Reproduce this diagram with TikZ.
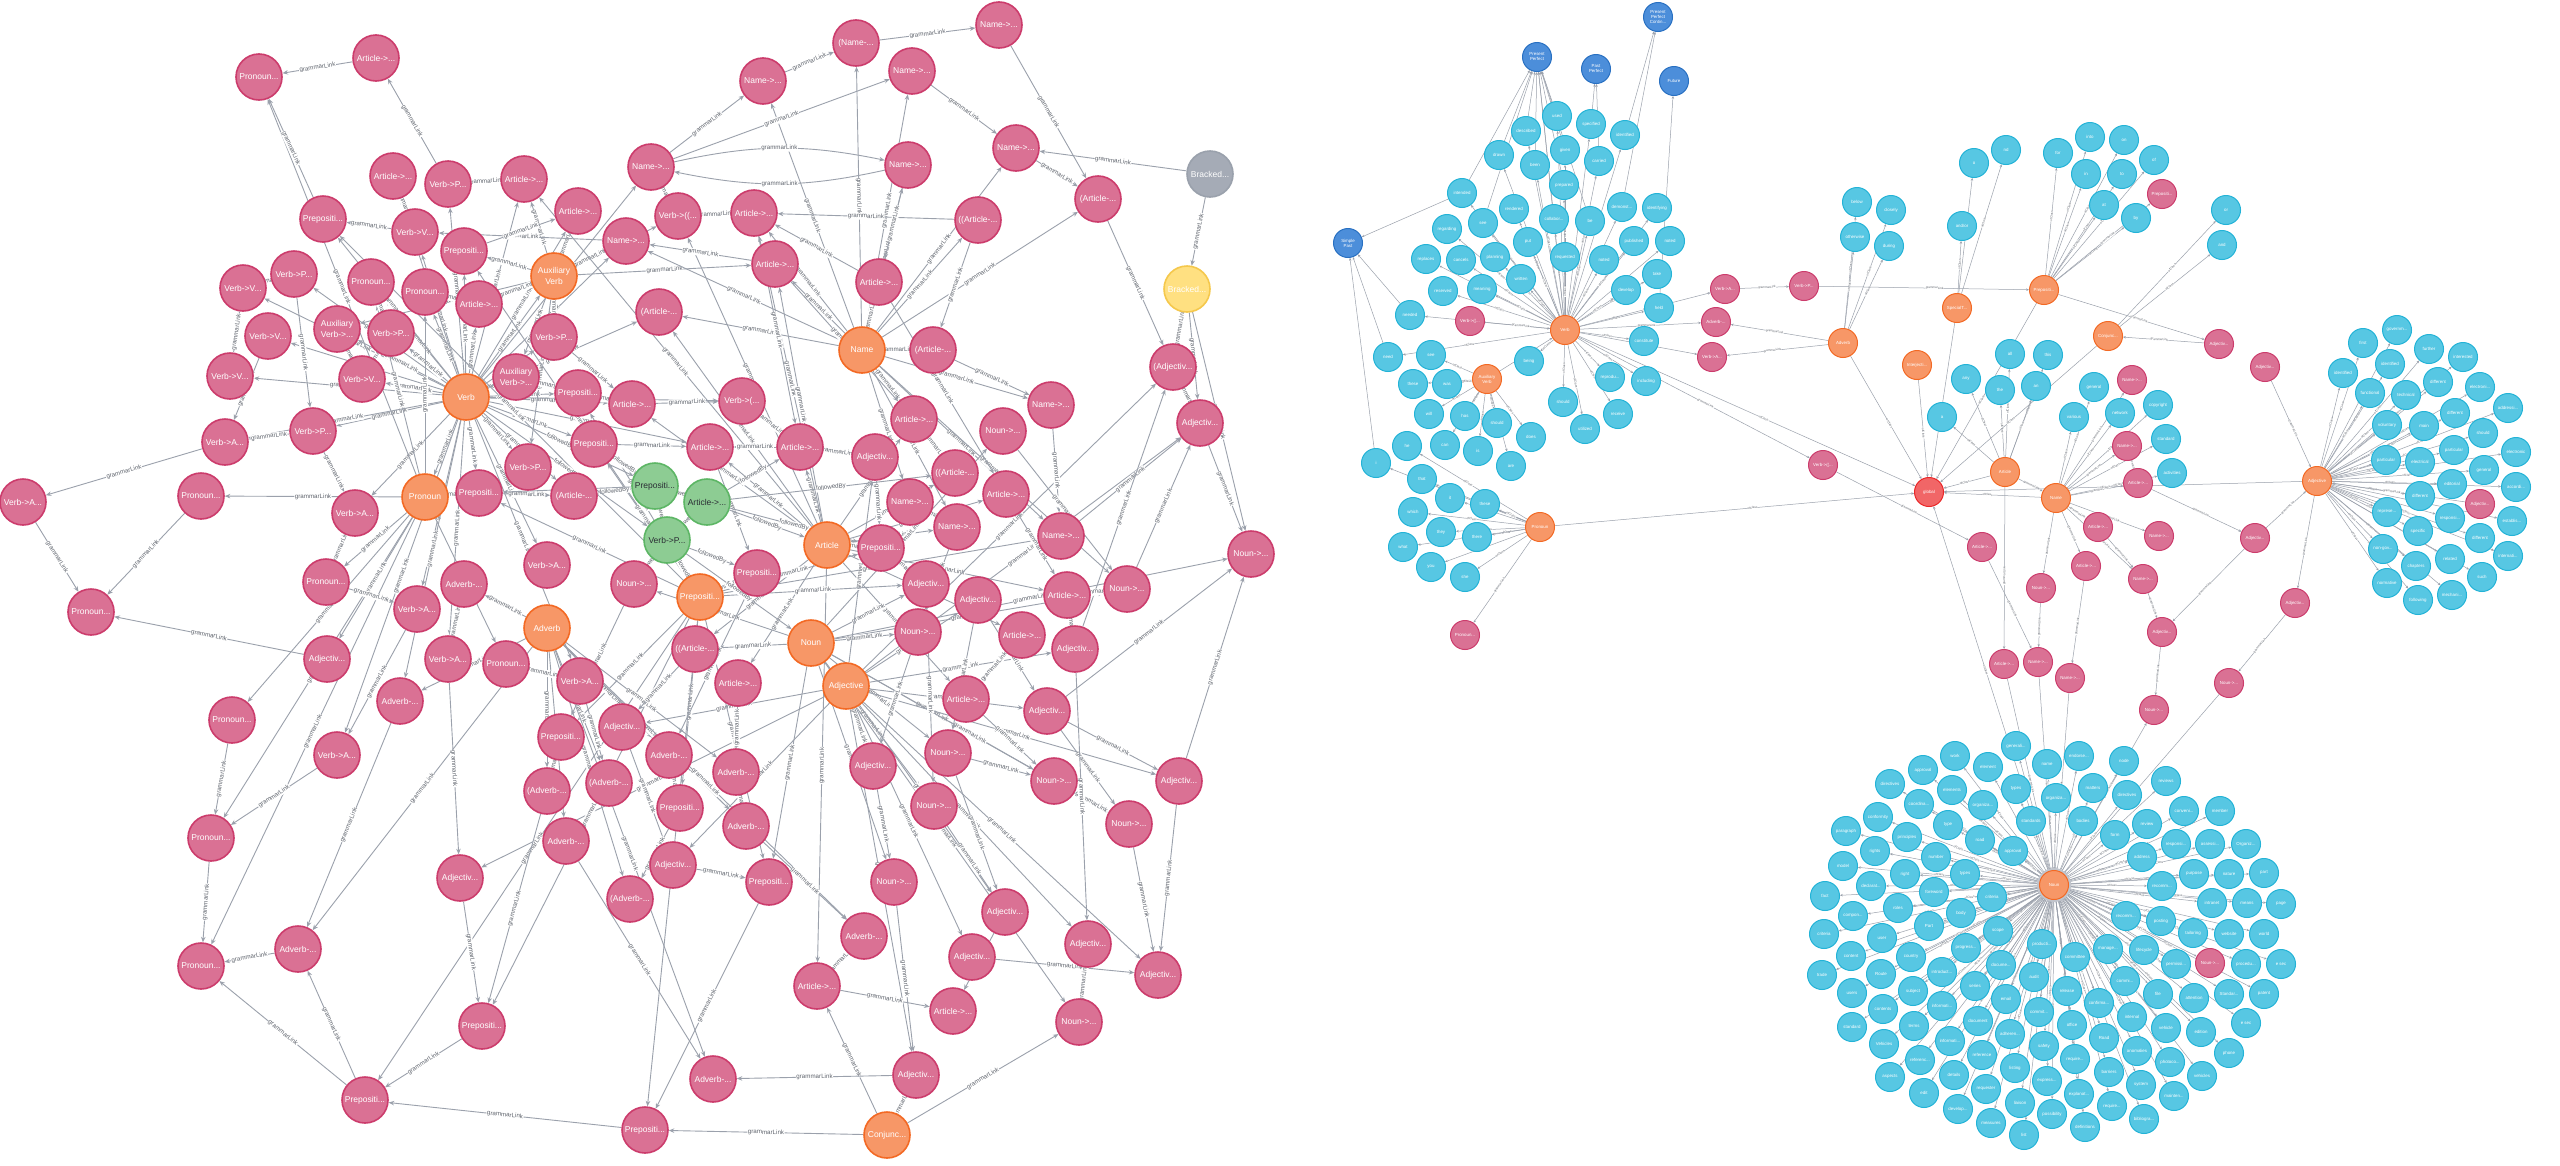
\documentclass[tikz,border=0pt]{standalone}
\usepackage{fontspec}
\setmainfont{Liberation Sans}
\usetikzlibrary{arrows.meta}
\usepackage{xcolor}

\definecolor{pinkfill}{HTML}{DA7194}
\definecolor{pinkline}{HTML}{CC3C6C}
\definecolor{orangefill}{HTML}{F79767}
\definecolor{orangeline}{HTML}{F36924}
\definecolor{greenfill}{HTML}{8DCC93}
\definecolor{greenline}{HTML}{5DB665}
\definecolor{cyanfill}{HTML}{57C7E3}
\definecolor{cyanline}{HTML}{23B3D7}
\definecolor{bluefill}{HTML}{4C8EDA}
\definecolor{blueline}{HTML}{2870C2}
\definecolor{grayfill}{HTML}{A5ABB6}
\definecolor{grayline}{HTML}{9AA1AC}
\definecolor{yellowfill}{HTML}{FFE081}
\definecolor{yellowline}{HTML}{F5C84C}
\definecolor{redfill}{HTML}{F16667}
\definecolor{redline}{HTML}{EB2728}
\definecolor{linkgray}{HTML}{9BA1AC}
\definecolor{lbltext}{HTML}{5F646D}
\definecolor{darktext}{HTML}{2A2C34}

\pgfdeclarelayer{paper}
\pgfdeclarelayer{bg}
\pgfsetlayers{paper,bg,main}

\tikzset{
  ball/.style={circle, minimum size=46pt, inner sep=0pt, line width=1.6pt, align=center,
    font=\fontsize{8.5}{10.5}\selectfont, text=white},
  pnode/.style={ball, fill=pinkfill, draw=pinkline},
  hub/.style={ball, fill=orangefill, draw=orangeline},
  grn/.style={ball, fill=greenfill, draw=greenline, text=darktext},
  brknode/.style={ball, fill=grayfill, draw=grayline},
  brkyel/.style={ball, fill=yellowfill, draw=yellowline, text=white},
  sball/.style={circle, minimum size=29pt, inner sep=0pt, line width=1pt, align=center,
    font=\fontsize{4.4}{5}\selectfont, text=white},
  cnode/.style={sball, fill=cyanfill, draw=cyanline},
  tnode/.style={sball, fill=bluefill, draw=blueline},
  rpnode/.style={sball, fill=pinkfill, draw=pinkline},
  rhub/.style={sball, fill=orangefill, draw=orangeline},
  rglob/.style={sball, fill=redfill, draw=redline},
  link/.style={draw=linkgray, line width=0.9pt, -{Stealth[length=5.5pt,width=4.5pt]}},
  lbl/.style={font=\fontsize{6.2}{6.5}\selectfont, text=lbltext, fill=white, inner sep=0.5pt, sloped, midway},
  rlink/.style={draw=linkgray, line width=0.5pt, -{Stealth[length=2.8pt,width=2.4pt]}},
  rlbl/.style={font=\fontsize{3}{3.2}\selectfont, text=lbltext, fill=white, inner sep=0.2pt, sloped, pos=0.55}
}

% word nodes of the right graph, with the class node they belong to
\newcommand{\wordlist}{
  v1/1557/116/used/rverb, v2/1591/124/specified/rverb, v3/1526/131/described/rverb, v4/1625/135/identified/rverb,
  v5/1565/150/given/rverb, v6/1499/155/drawn/rverb, v7/1535/165/been/rverb, v8/1599/161/carried/rverb,
  v9/1564/185/prepared/rverb, v10/1462/193/intended/rverb, v11/1514/209/rendered/rverb, v12/1554/219/{collabor...}/rverb,
  v13/1590/221/be/rverb, v14/1622/207/{demonst...}/rverb, v15/1657/208/identifying/rverb, v16/1483/223/see/rverb,
  v17/1447/229/regarding/rverb, v18/1528/242/put/rverb, v19/1634/241/published/rverb, v20/1670/241/noted/rverb,
  v21/1565/257/requested/rverb, v22/1426/259/replaces/rverb, v23/1461/260/cancels/rverb, v24/1495/257/planning/rverb,
  v25/1604/260/noted/rverb, v26/1657/274/take/rverb, v27/1521/279/written/rverb, v28/1626/290/develop/rverb,
  v29/1443/291/reserved/rverb, v30/1482/289/meaning/rverb, v31/1659/308/held/rverb, v32/1410/315/needed/rverb,
  v33/1644/341/constitute/rverb, v34/1388/357/need/rverb, v35/1431/355/see/raux, v36/1529/361/being/rverb,
  v37/1610/377/{reprodu...}/rverb, v38/1646/381/including/rverb, v39/1413/384/these/raux, v40/1447/384/was/raux,
  v41/1563/402/should/rverb, v42/1618/414/receive/rverb, v43/1585/429/utilized/rverb, v44/1429/414/will/raux,
  v45/1465/416/has/raux, v46/1497/423/should/raux, v47/1531/437/does/raux, v48/1407/446/he/rpron,
  v49/1445/445/can/raux, v50/1478/451/is/raux, v51/1511/466/are/raux, v52/1376/463/i/rpron,
  v53/1422/479/that/rpron, v54/1450/498/it/rpron, v55/1485/504/these/rpron, v56/1413/512/which/rpron,
  v57/1441/532/they/rpron, v58/1477/537/there/rpron, v59/1403/547/what/rpron, v60/1431/567/you/rpron,
  v61/1465/577/she/rpron,
  w1/1857/202/below/radv, w2/1891/210/closely/radv, w3/1855/237/otherwise/radv, w4/1889/246/during/radv,
  w5/1974/163/o/rspec, w6/2006/150/nd/rspec, w7/1962/226/and\slash or/rspec,
  w8/2058/153/for/rprep, w9/2090/137/into/rprep, w10/2124/140/on/rprep, w11/2086/174/in/rprep,
  w12/2122/174/to/rprep, w13/2154/160/of/rprep, w14/2104/205/at/rprep, w15/2136/218/by/rprep,
  w16/2226/210/or/rconj, w17/2222/245/and/rconj,
  w18/2010/354/all/rart, w19/2048/355/this/rart, w20/1966/379/any/rart, w21/2000/390/the/rart,
  w22/2036/386/an/rart, w23/1942/417/a/rart,
  w24/2094/387/general/rname, w25/2074/417/various/rname, w26/2120/413/network/rname,
  w27/2158/405/copyright/rname, w28/2166/439/standard/rname, w29/2172/473/activities/rname,
  a1/2397/330/{governm...}/radj, a2/2363/343/first/radj, a3/2429/349/further/radj, a4/2463/357/interested/radj,
  a5/2390/364/identified/radj, a6/2343/373/identified/radj, a7/2370/393/functional/radj, a8/2406/395/technical/radj,
  a9/2438/382/different/radj, a10/2480/387/{electroni...}/radj, a11/2455/413/different/radj, a12/2387/425/voluntary/radj,
  a13/2424/426/main/radj, a14/2508/408/{addressi...}/radj, a15/2483/433/should/radj, a16/2454/450/particular/radj,
  a17/2386/460/particular/radj, a18/2420/462/electrical/radj, a19/2516/452/electronic/radj, a20/2484/470/general/radj,
  a21/2452/484/editorial/radj, a22/2516/487/{accordi...}/radj, a23/2420/496/different/radj, a24/2387/512/{represe...}/radj,
  a25/2450/518/{responsi...}/radj, a26/2418/531/specific/radj, a27/2512/521/{establis...}/radj, a28/2480/538/different/radj,
  a29/2383/549/{non-gov...}/radj, a30/2416/566/chapters/radj, a31/2450/559/related/radj, a32/2508/556/{internati...}/radj,
  a33/2387/583/normative/radj, a34/2482/577/such/radj, a35/2418/600/following/radj, a36/2452/595/{mechani...}/radj}

% word nodes round the Noun class
\newcommand{\nounlist}{
  n1/2016/746/{generali...}, n2/1955/756/work, n3/2047/764/name, n4/2079/756/{endorse...},
  n5/2124/761/node, n6/1923/770/approval, n7/1988/767/element, n8/1890/784/directives,
  n9/1952/790/elements, n10/2016/789/types, n11/2056/798/{organiza...}, n12/2093/788/matters,
  n13/2127/795/directives, n14/2166/781/reviews, n15/1919/804/{coordina...}, n16/1983/805/{organiza...},
  n17/1878/817/conformity, n18/1948/825/type, n19/2031/821/standards, n20/2083/821/bodies,
  n21/2115/835/form, n22/2147/824/review, n23/2184/811/{conveni...}, n24/2220/811/member,
  n25/1846/831/paragraph, n26/1907/837/principles, n27/1980/840/road, n28/2013/851/approval,
  n29/1875/851/rights, n30/1936/857/number, n31/2142/857/address, n32/2176/844/{responsi...},
  n33/2210/844/{assessi...}, n34/2246/844/{Organiz...}, n35/1843/866/model, n36/1905/874/right,
  n37/1965/874/types, n38/2194/874/purpose, n39/2229/874/nature, n40/2264/873/part,
  n41/1825/896/fact, n42/1871/886/{declarat...}, n43/1934/892/foreword, n44/1992/897/criteria,
  n45/2162/886/{recomm...}, n46/2212/903/intranet, n47/2247/903/means, n48/2281/904/page,
  n49/1853/916/{compon...}, n50/1898/908/roles, n51/1961/913/body, n52/1929/926/Part,
  n53/2126/916/{recomm...}, n54/2161/921/posting, n55/2193/933/tailoring, n56/2229/934/website,
  n57/2264/934/world, n58/1824/934/criteria, n59/1882/938/user, n60/1998/931/scope,
  n61/1966/948/{progress...}, n62/1911/957/country, n63/2042/944/{producti...}, n64/2075/957/committee,
  n65/2108/949/{manage...}, n66/2144/950/lifecycle, n67/2176/964/{permissi...}, n68/2246/964/{procedu...},
  n69/2281/964/e sec, n70/1822/975/trade, n71/1851/956/content, n72/1881/974/Route,
  n73/1942/972/{introduct...}, n74/2001/965/{docume...}, n75/2034/977/audit, n76/2067/991/release,
  n77/2125/981/{commi...}, n78/2158/994/file, n79/2194/998/attention, n80/2229/994/{Standar...},
  n81/2264/994/patent, n82/1852/993/users, n83/1913/991/subject, n84/1975/986/series,
  n85/2006/999/email, n86/1883/1009/contents, n87/1942/1006/{informati...}, n88/2099/1003/{confirma...},
  n89/2132/1017/internal, n90/2039/1012/{commit...}, n91/1978/1021/document, n92/2072/1025/office,
  n93/2246/1023/e sec, n94/1852/1027/standard, n95/1914/1026/terms, n96/1884/1044/Vehicles,
  n97/1950/1041/{informati...}, n98/2010/1034/{adheren...}, n99/2044/1046/safety, n100/2104/1038/Road,
  n101/2137/1051/anomalies, n102/2166/1028/vehicle, n103/2201/1032/edition, n104/2229/1053/phone,
  n105/1920/1060/{referenc...}, n106/1982/1055/reference, n107/2015/1068/listing, n108/2075/1059/{require...},
  n109/2109/1072/barriers, n110/2170/1062/{photoco...}, n111/2202/1076/vehicles, n112/1890/1077/aspects,
  n113/1954/1075/details, n114/2047/1081/{express...}, n115/2079/1094/{explanat...}, n116/2141/1085/system,
  n117/2174/1096/{mainten...}, n118/1924/1093/edit, n119/1986/1089/requester, n120/2020/1103/liaison,
  n121/2112/1106/{require...}, n122/1958/1109/{develop...}, n123/1991/1123/measures, n124/2052/1114/possibility,
  n125/2144/1119/{bibliogra...}, n126/2085/1127/definitions, n127/2024/1135/list}

\begin{document}
\begin{tikzpicture}[x=1pt, y=-1pt]
\begin{pgfonlayer}{paper}
  \fill[white] (0,0) rectangle (2560,1165);
\end{pgfonlayer}
\useasboundingbox (0,0) rectangle (2560,1165);

% ---------- left graph: hubs ----------
\node[hub] (verb) at (466,397) {Verb};
\node[hub] (aux) at (554,276) {Auxiliary\\Verb};
\node[hub] (name) at (862,350) {Name};
\node[hub] (pron) at (425,497) {Pronoun};
\node[hub] (adv) at (547,628) {Adverb};
\node[hub] (prep) at (700,597) {Prepositi...};
\node[hub] (art) at (827,545) {Article};
\node[hub] (noun) at (811,643) {Noun};
\node[hub] (adj) at (846,686) {Adjective};
\node[hub] (conj) at (887,1135) {Conjunc...};
\node[grn] (gp) at (655,486) {Prepositi...};
\node[grn] (ga) at (707,502) {Article->...};
\node[grn] (gv) at (667,540) {Verb->P...};
\node[brknode] (brk) at (1210,174) {Bracked...};
\node[brkyel] (brky) at (1187,289) {Bracked...};

% ---------- left graph: rule nodes ----------
\foreach \n/\x/\y/\t in {
  p1/259/77/{Pronoun...}, p2/376/58/{Article->...}, p3/856/43/{(Name-...}, p4/999/25/{Name->...},
  p5/763/81/{Name->...}, p6/912/71/{Name->...}, p7/1016/148/{Name->...}, p8/651/167/{Name->...},
  p9/908/165/{Name->...}, p10/1098/199/{(Article-...}, p11/393/176/{Article->...}, p12/448/184/{Verb->P...},
  p13/524/179/{Article->...}, p14/578/211/{Article->...}, p15/678/216/{Verb->((...}, p16/754/213/{Article->...},
  p17/978/220/{((Article-...}, p18/323/219/{Prepositi...}, p19/415/232/{Verb->V...}, p20/464/251/{Prepositi...},
  p21/626/241/{Name->...}, p22/775/264/{Article->...}, p23/879/282/{Article->...}, p24/294/274/{Verb->P...},
  p25/371/282/{Pronoun...}, p26/425/292/{Pronoun...}, p27/479/304/{Article->...}, p28/659/312/{(Article-...},
  p29/243/288/{Verb->V...}, p30/268/336/{Verb->V...}, p31/337/329/{Auxiliary\\Verb->...}, p32/391/333/{Verb->P...},
  p33/554/337/{Verb->P...}, p34/933/350/{(Article-...}, p35/1173/367/{(Adjectiv...}, p36/230/376/{Verb->V...},
  p37/362/379/{Verb->V...}, p38/516/377/{Auxiliary\\Verb->...}, p39/578/393/{Prepositi...}, p40/632/404/{Article->...},
  p41/742/401/{Verb->(...}, p42/1051/405/{Name->...}, p43/1200/423/{Adjectiv...}, p44/313/431/{Verb->P...},
  p45/225/442/{Verb->A...}, p46/594/444/{Prepositi...}, p47/710/447/{Article->...}, p48/800/447/{Article->...},
  p49/914/419/{Article->...}, p50/1003/431/{Noun->...}, p51/875/457/{Adjectiv...}, p52/955/473/{((Article-...},
  p53/1006/494/{Article->...}, p54/23/502/{Verb->A...}, p55/201/496/{Pronoun...}, p56/355/513/{Verb->A...},
  p57/479/493/{Prepositi...}, p58/528/467/{Verb->P...}, p59/574/496/{(Article-...}, p60/881/548/{Prepositi...},
  p61/910/502/{Name->...}, p62/957/527/{Name->...}, p63/1061/536/{Name->...}, p64/1251/554/{Noun->...},
  p65/326/582/{Pronoun...}, p66/464/584/{Adverb-...}, p67/547/565/{Verb->A...}, p68/634/584/{Noun->...},
  p69/757/573/{Prepositi...}, p70/926/584/{Adjectiv...}, p71/1067/595/{Article->...}, p72/1127/589/{Noun->...},
  p73/91/612/{Pronoun...}, p74/417/609/{Verb->A...}, p75/978/600/{Adjectiv...}, p76/918/632/{Noun->...},
  p77/1022/635/{Article->...}, p78/1075/649/{Adjectiv...}, p79/327/659/{Adjectiv...}, p80/448/659/{Verb->A...},
  p81/506/664/{Pronoun...}, p82/695/649/{((Article-...}, p83/580/681/{Verb->A...}, p84/738/683/{Article->...},
  p85/966/699/{Article->...}, p86/1047/711/{Adjectiv...}, p87/232/720/{Pronoun...}, p88/400/701/{Adverb-...},
  p89/561/737/{Prepositi...}, p90/622/727/{Adjectiv...}, p91/669/755/{Adverb-...}, p92/337/755/{Verb->A...},
  p93/948/753/{Noun->...}, p94/873/766/{Adjectiv...}, p95/736/772/{Adverb-...}, p96/1054/781/{Noun->...},
  p97/1179/781/{Adjectiv...}, p98/609/783/{(Adverb-...}, p99/547/791/{(Adverb-...}, p100/680/808/{Prepositi...},
  p101/934/806/{Noun->...}, p102/1129/824/{Noun->...}, p103/211/838/{Pronoun...}, p104/566/841/{Adverb-...},
  p105/746/826/{Adverb-...}, p106/460/878/{Adjectiv...}, p107/673/865/{Adjectiv...}, p108/630/899/{(Adverb-...},
  p109/769/882/{Prepositi...}, p110/894/882/{Noun->...}, p111/1005/912/{Adjectiv...}, p112/864/936/{Adverb-...},
  p113/1088/944/{Adjectiv...}, p114/972/957/{Adjectiv...}, p115/298/949/{Adverb-...}, p116/201/966/{Pronoun...},
  p117/1158/975/{Adjectiv...}, p118/817/986/{Article->...}, p119/953/1011/{Article->...}, p120/1079/1022/{Noun->...},
  p121/482/1026/{Prepositi...}, p122/713/1079/{Adverb-...}, p123/916/1075/{Adjectiv...}, p124/365/1100/{Prepositi...},
  p125/645/1130/{Prepositi...}}
  \node[pnode] (\n) at (\x,\y) {\t};

% ---------- right graph: class nodes ----------
\node[rhub] (rverb) at (1565,330) {Verb};
\node[rhub] (raux) at (1487,379) {Auxiliary\\Verb};
\node[rhub] (rpron) at (1540,527) {Pronoun};
\node[rhub] (radv) at (1843,343) {Adverb};
\node[rhub] (rspec) at (1957,308) {SpecialT...};
\node[rhub] (rint) at (1917,365) {Interjecti...};
\node[rhub] (rprep) at (2044,290) {Prepositi...};
\node[rhub] (rconj) at (2108,336) {Conjunc...};
\node[rhub] (rart) at (2005,472) {Article};
\node[rhub] (rname) at (2056,498) {Name};
\node[rhub] (radj) at (2317,481) {Adjective};
\node[rhub, preaction={draw=grayfill!70, line width=5pt}] (rnoun) at (2054,885) {Noun};
\node[rglob] (glob) at (1929,492) {global};

\node[tnode] (tpc) at (1658,17) {Present\\Perfect\\Contin...};
\node[tnode] (tpp) at (1537,57) {Present\\Perfect};
\node[tnode] (tpa) at (1596,69) {Past\\Perfect};
\node[tnode] (tfu) at (1674,81) {Future};
\node[tnode] (tsp) at (1348,243) {Simple\\Past};

\foreach \n/\x/\y/\t in {
  rv1/1470/321/{Verb->((...}, rv2/1725/289/{Verb->A...}, rv3/1804/286/{Verb->P...}, rv4/1716/322/{Adverb-...},
  rv5/1712/357/{Verb->A...}, rv6/1823/465/{Verb->((...}, rp1/1465/635/{Pronoun...}, rq1/2162/194/{Prepositi...},
  rj1/2219/344/{Adjectiv...}, rj2/2265/367/{Adjectiv...}, rm1/2132/380/{Name->...}, rm2/2127/446/{Name->...},
  ra1/2138/483/{Article->...}, ra2/2098/527/{Article->...}, rm3/2159/536/{Name->...}, ra3/1982/547/{Article->...},
  ra4/2086/566/{Article->...}, rm4/2143/579/{Name->...}, rn1/2041/588/{Noun->...}, rj3/2255/538/{Adjectiv...},
  rj4/2162/632/{Adjectiv...}, rj5/2295/603/{Adjectiv...}, ra5/2004/664/{Article->...}, rm5/2038/662/{Name->...},
  rm6/2070/678/{Name->...}, rn2/2229/683/{Noun->...}, rn3/2154/710/{Noun->...}, rja/2480/504/{Adjectiv...},
  rnn/2210/963/{Noun->...}}
  \node[rpnode] (\n) at (\x,\y) {\t};

% ---------- right graph: words ----------
\foreach \n/\x/\y/\t/\h in \wordlist
  \node[cnode] (\n) at (\x,\y) {\t};
\foreach \n/\x/\y/\t in \nounlist
  \node[cnode] (\n) at (\x,\y) {\t};

% ---------- all links, behind the nodes ----------
\begin{pgfonlayer}{bg}
\foreach \a/\b in {
  verb/p12, verb/p19, verb/p20, verb/p24, verb/p25, verb/p26, verb/p27, verb/p29, verb/p30, verb/p31,
  verb/p32, verb/p33, verb/p36, verb/p37, verb/p38, verb/p39, verb/p40, verb/p44, verb/p45, verb/p46,
  verb/p56, verb/p57, verb/p58, verb/p59, verb/p11, verb/p13, verb/p18, verb/p14, verb/aux, verb/pron,
  verb/p67, verb/p74, verb/p80, verb/p83, verb/p41, verb/p21, verb/p28, verb/p8, verb/p88, verb/p47, verb/p92,
  aux/p31, aux/p38, aux/p33, aux/p27, aux/p20, aux/p14, aux/p15, aux/p21, aux/p13, aux/p22, aux/p58,
  name/p3, name/p5, name/p6, name/p7, name/p9, name/p21, name/p42, name/p61, name/p62, name/p63,
  name/p16, name/p22, name/p23, name/p34, name/p10, name/p17, name/p49, name/p28, name/p72,
  art/p60, art/p53, art/p52, art/p49, art/p48, art/p47, art/p15, art/p16, art/p13, art/p28,
  art/p82, art/p84, art/p85, art/p71, art/p77, art/p118, art/p62, art/p40, art/p22,
  noun/p50, noun/p68, noun/p72, noun/p76, noun/p93, noun/p96, noun/p101, noun/p102, noun/p110,
  noun/p120, noun/p64, noun/p82, noun/p109, noun/p70,
  adj/p43, adj/p51, adj/p75, adj/p78, adj/p86, adj/p90, adj/p94, adj/p97, adj/p111, adj/p113,
  adj/p114, adj/p117, adj/p123, adj/p107, adj/p35, adj/p106,
  prep/p18, prep/p20, prep/p39, prep/p46, prep/p57, prep/p69, prep/p89, prep/p100, prep/p109,
  prep/p121, prep/p125, prep/p60, prep/p63, prep/p124, prep/p70,
  pron/p1, pron/p25, pron/p26, pron/p55, pron/p65, pron/p81, pron/p87, pron/p103, pron/p116, pron/p57, pron/p79,
  adv/p66, adv/p88, adv/p91, adv/p95, adv/p98, adv/p99, adv/p104, adv/p105, adv/p108, adv/p112, adv/p115, adv/p122,
  conj/p125, conj/p123, conj/p120, conj/p118,
  p2/p1, p18/p1, p12/p2, p5/p3, p3/p4, p6/p7, brk/p7, brk/brky, brky/p35, brky/p43, brky/p64,
  p4/p10, p8/p5, p8/p6, p15/p8, p16/p15, p17/p16, p12/p13, p19/p18, p21/p19, p22/p21, p23/p16,
  p10/p35, p17/p34, p34/p42, p29/p36, p30/p45, p44/p45, p45/p54, p54/p73, p55/p73, p79/p73,
  p87/p103, p92/p103, p103/p116, p115/p116, p124/p116, p124/p115, p121/p124, p125/p124, p106/p121,
  p123/p122, p118/p119, p114/p117, p102/p117, p88/p115, p80/p106, p99/p121, p104/p122, p109/p125,
  p110/p123, p111/p119, p101/p111, p96/p102, p93/p96, p86/p97, p75/p86, p71/p78, p97/p64, p43/p64,
  p35/p43, p42/p63, p50/p72, p53/p71, p61/p62, p62/p76, p63/p43, p72/p43, p78/p35, p86/p64,
  p71/p72, p77/p85, p85/p96, p86/p102, p75/p93, p70/p101, p76/p94, p94/p110, p93/p111, p57/p59,
  p46/p47, p48/p47, p40/p41, p41/p48, p39/p40, p11/p19, p24/p29, p32/p37, p26/p27, p20/p14,
  p65/p74, p74/p92, p66/p80, p81/p83, p83/p98, p89/p99, p90/p107, p91/p100, p100/p108, p105/p112,
  p107/p109, p95/p105, p84/p95, p112/p118, p113/p120, p78/p113, p23/p53, p9/p23, p49/p52,
  p51/p60, p60/p70, p69/p91, p68/p89, p47/p69, p82/p90, p56/p65, p44/p56, p31/p37, p25/p32,
  p24/p44, p33/p40, p38/p39, p22/p49, p7/p10, p16/p48, p48/p51, p97/p117}
  \draw[link] (\a) -- node[lbl]{grammarLink} (\b);
\foreach \a/\b in {gp/ga, ga/gv, gv/gp, ga/art, ga/p60, gv/prep, gv/noun, gp/p59, gp/p57, gv/p69,
  gp/p46, ga/p52, verb/gp, verb/gv, gv/p68, ga/p48}
  \draw[link] (\a) -- node[lbl]{followedBy} (\b);
\draw[link] (p8) to[bend left=12] node[lbl]{grammarLink} (p9);
\draw[link] (p9) to[bend left=12] node[lbl]{grammarLink} (p8);

\foreach \n/\x/\y/\t/\h in \wordlist
  \draw[rlink] (\h) -- node[rlbl]{ofClass} (\n);
\foreach \n/\x/\y/\t in \nounlist
  \draw[rlink] (rnoun) -- node[rlbl]{ofClass} (\n);
\foreach \a/\b in {
  rv1/rverb, rverb/rv2, rverb/rv4, rverb/rv5, rv2/rv3, rv3/rprep, radv/rv4, radv/rv5, rverb/rv6,
  rv6/ra3, rprep/rj1, rj1/rconj, rj2/radj, rname/ra1, rname/ra2, rname/rm3, rname/rm4, ra2/rm4,
  rm4/rj4, ra3/rm5, rname/rn1, rn1/rm5, ra1/rj3, rj3/radj, radj/rj5, rj5/rn2, rnoun/rn3, rj4/rn3,
  rart/ra5, rpron/rp1, raux/rverb, rname/rm1, rname/rm2, rm2/ra1, ra4/rm6, rname/ra4, rm5/rnoun,
  rm6/rnoun, ra5/rnoun, rnoun/rnn, rn2/rnoun, rprep/rq1, rja/radj, rart/rname, rj3/rj4}
  \draw[rlink] (\a) -- node[rlbl]{grammarLink} (\b);
\foreach \a/\b in {
  rverb/glob, rpron/glob, radv/glob, rspec/glob, rint/glob, rprep/glob, rconj/glob, rart/glob,
  rname/glob, radj/glob, rnoun/glob}
  \draw[rlink] (\a) -- node[rlbl]{ofClass} (\b);
\foreach \a/\b in {
  v1/tpp, v3/tpp, v5/tpp, v6/tpp, v7/tpp, v9/tpp, v12/tpp, v13/tpp, v10/tpp, v16/tpp, rverb/tpp,
  v2/tpa, v8/tpa, v4/tpc, v14/tpc, v31/tfu, v10/tsp, v32/tsp, v52/tsp, v34/tsp}
  \draw[rlink] (\a) -- (\b);
\end{pgfonlayer}

\end{tikzpicture}
\end{document}
